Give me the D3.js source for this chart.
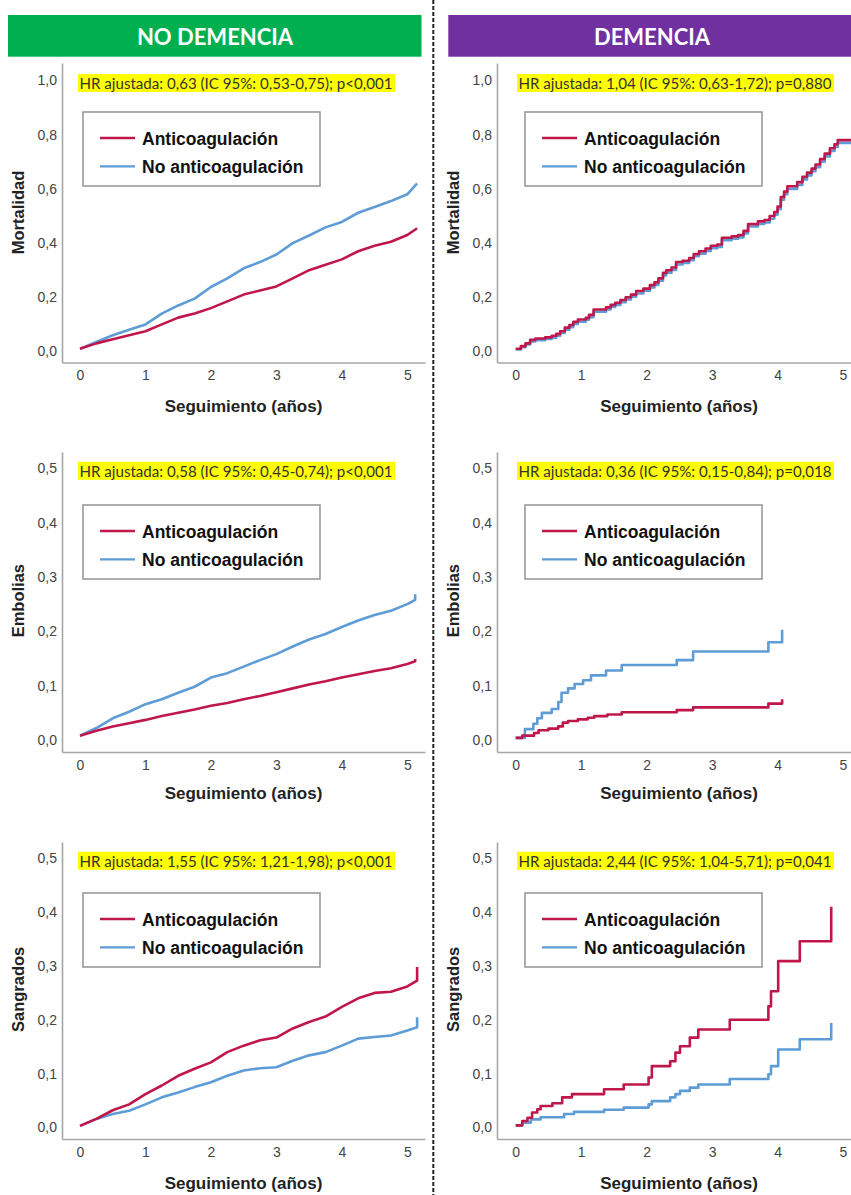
<!DOCTYPE html>
<html>
<head>
<meta charset="utf-8">
<script src="https://cdn.jsdelivr.net/npm/d3@7"></script>
<style>
  html, body { margin: 0; padding: 0; background: #fff; }
  svg { display: block; }
</style>
</head>
<body>
<svg id="chart" width="851" height="1195"></svg>
<script>
// ---------- labels ----------
const headers = ["NO DEMENCIA", "DEMENCIA"];
const outcomes = ["Mortalidad", "Embolias", "Sangrados"];
const groups = ["Anticoagulación", "No anticoagulación"];
const xTitle = "Seguimiento (años)";
const xTicks = [0, 1, 2, 3, 4, 5];
const yTicksMort = [0, 0.2, 0.4, 0.6, 0.8, 1.0];
const yTicksEvents = [0, 0.1, 0.2, 0.3, 0.4, 0.5];

const hrNoDemencia = [
  "HR ajustada: 0,63 (IC 95%: 0,53-0,75); p<0,001",
  "HR ajustada: 0,58 (IC 95%: 0,45-0,74); p<0,001",
  "HR ajustada: 1,55 (IC 95%: 1,21-1,98); p<0,001"
];
const hrDemencia = [
  "HR ajustada: 1,04 (IC 95%: 0,63-1,72); p=0,880",
  "HR ajustada: 0,36 (IC 95%: 0,15-0,84); p=0,018",
  "HR ajustada: 2,44 (IC 95%: 1,04-5,71); p=0,041"
];

// ---------- No demencia: cumulative incidence (years, proportion) ----------
const mortNoDemT = [0, 0.25, 0.5, 0.75, 1, 1.25, 1.5, 1.75, 2, 2.25, 2.5, 2.75, 3, 3.25, 3.5, 3.75, 4, 4.25, 4.5, 4.75, 5, 5.15];
const mortNoDemAnti = [0.010, 0.030, 0.045, 0.060, 0.075, 0.100, 0.125, 0.140, 0.160, 0.185, 0.210, 0.225, 0.240, 0.270, 0.300, 0.320, 0.340, 0.370, 0.390, 0.405, 0.430, 0.455];
const mortNoDemNoAnti = [0.010, 0.035, 0.060, 0.080, 0.100, 0.140, 0.170, 0.195, 0.238, 0.270, 0.307, 0.330, 0.358, 0.400, 0.428, 0.458, 0.478, 0.512, 0.533, 0.555, 0.580, 0.620];

const embNoDemT = [0, 0.25, 0.5, 0.75, 1, 1.25, 1.5, 1.75, 2, 2.25, 2.5, 2.75, 3, 3.25, 3.5, 3.75, 4, 4.25, 4.5, 4.75, 5, 5.12, 5.12];
const embNoDemAnti = [0.008, 0.017, 0.025, 0.031, 0.037, 0.044, 0.050, 0.056, 0.063, 0.068, 0.075, 0.081, 0.088, 0.095, 0.102, 0.108, 0.115, 0.121, 0.127, 0.132, 0.140, 0.145, 0.149];
const embNoDemNoAnti = [0.008, 0.022, 0.040, 0.052, 0.066, 0.075, 0.087, 0.098, 0.115, 0.123, 0.135, 0.147, 0.158, 0.172, 0.185, 0.195, 0.208, 0.220, 0.230, 0.238, 0.250, 0.258, 0.268];

const sangNoDemT = [0, 0.25, 0.5, 0.75, 1, 1.25, 1.5, 1.75, 2, 2.25, 2.5, 2.75, 3, 3.25, 3.5, 3.75, 4, 4.25, 4.5, 4.75, 5, 5.15, 5.15];
const sangNoDemAnti = [0.003, 0.016, 0.032, 0.043, 0.062, 0.078, 0.096, 0.109, 0.121, 0.140, 0.152, 0.162, 0.167, 0.184, 0.196, 0.206, 0.224, 0.240, 0.250, 0.252, 0.262, 0.273, 0.298];
const sangNoDemNoAnti = [0.003, 0.016, 0.025, 0.031, 0.043, 0.056, 0.065, 0.075, 0.084, 0.096, 0.106, 0.110, 0.112, 0.124, 0.134, 0.140, 0.152, 0.165, 0.168, 0.171, 0.180, 0.186, 0.205];

// ---------- Demencia: Kaplan-Meier style step data ----------
const mortDemT = [0, 0.08, 0.15, 0.22, 0.30, 0.45, 0.55, 0.62, 0.68, 0.75, 0.82, 0.88, 0.95, 1.07, 1.12, 1.19, 1.38, 1.45, 1.52, 1.60, 1.68, 1.76, 1.84, 1.95, 2.05, 2.12, 2.18, 2.25, 2.30, 2.38, 2.45, 2.55, 2.65, 2.72, 2.80, 2.90, 2.98, 3.08, 3.15, 3.30, 3.40, 3.48, 3.55, 3.70, 3.80, 3.88, 3.95, 4.00, 4.05, 4.10, 4.15, 4.30, 4.38, 4.45, 4.52, 4.58, 4.65, 4.72, 4.80, 4.87, 4.92, 5.20];
const mortDemAnti = [0.010, 0.020, 0.030, 0.043, 0.048, 0.052, 0.058, 0.065, 0.075, 0.088, 0.098, 0.110, 0.118, 0.124, 0.135, 0.155, 0.163, 0.172, 0.180, 0.190, 0.200, 0.210, 0.223, 0.232, 0.245, 0.255, 0.270, 0.290, 0.300, 0.310, 0.330, 0.335, 0.345, 0.360, 0.370, 0.380, 0.390, 0.395, 0.420, 0.425, 0.430, 0.445, 0.470, 0.480, 0.485, 0.500, 0.515, 0.535, 0.570, 0.590, 0.610, 0.625, 0.645, 0.660, 0.675, 0.690, 0.710, 0.730, 0.750, 0.765, 0.780, 0.780];
const mortDemNoAnti = [0.008, 0.016, 0.026, 0.037, 0.042, 0.046, 0.051, 0.058, 0.068, 0.080, 0.090, 0.102, 0.110, 0.117, 0.127, 0.147, 0.155, 0.164, 0.172, 0.182, 0.192, 0.202, 0.214, 0.224, 0.236, 0.246, 0.261, 0.281, 0.291, 0.301, 0.321, 0.327, 0.337, 0.352, 0.361, 0.371, 0.381, 0.386, 0.411, 0.416, 0.421, 0.436, 0.461, 0.471, 0.476, 0.490, 0.505, 0.525, 0.560, 0.580, 0.600, 0.615, 0.635, 0.650, 0.665, 0.680, 0.700, 0.720, 0.740, 0.755, 0.770, 0.770];

const embDemAntiT = [0, 0.10, 0.28, 0.35, 0.50, 0.65, 0.72, 0.80, 0.95, 1.10, 1.20, 1.40, 1.62, 2.46, 2.71, 3.86, 4.07];
const embDemAnti = [0.004, 0.008, 0.013, 0.018, 0.021, 0.025, 0.032, 0.035, 0.038, 0.041, 0.044, 0.047, 0.051, 0.055, 0.060, 0.067, 0.075];
const embDemNoAntiT = [0, 0.14, 0.27, 0.33, 0.40, 0.55, 0.65, 0.70, 0.80, 0.90, 1.03, 1.15, 1.38, 1.62, 2.46, 2.71, 3.86, 4.07];
const embDemNoAnti = [0.004, 0.020, 0.030, 0.040, 0.050, 0.057, 0.070, 0.087, 0.095, 0.103, 0.110, 0.119, 0.128, 0.138, 0.147, 0.163, 0.180, 0.203];

const sangDemAntiT = [0, 0.10, 0.18, 0.25, 0.33, 0.38, 0.56, 0.71, 0.86, 1.35, 1.65, 2.03, 2.08, 2.36, 2.44, 2.51, 2.66, 2.79, 3.27, 3.86, 3.90, 4.01, 4.34, 4.82];
const sangDemAnti = [0.004, 0.012, 0.018, 0.028, 0.034, 0.040, 0.045, 0.056, 0.062, 0.071, 0.080, 0.093, 0.114, 0.123, 0.139, 0.151, 0.167, 0.182, 0.200, 0.225, 0.253, 0.309, 0.346, 0.410];
const sangDemNoAntiT = [0, 0.10, 0.23, 0.38, 0.74, 0.89, 1.35, 1.65, 2.03, 2.08, 2.36, 2.44, 2.51, 2.66, 2.79, 3.27, 3.86, 3.90, 4.01, 4.34, 4.82];
const sangDemNoAnti = [0.004, 0.009, 0.015, 0.019, 0.025, 0.029, 0.033, 0.037, 0.043, 0.049, 0.056, 0.062, 0.068, 0.074, 0.080, 0.090, 0.099, 0.114, 0.145, 0.164, 0.194];

// ---------- styles & layout ----------
const colorAnti = "#c0174a";
const colorNoAnti = "#5e9cd6";
const headerColors = ["#00b050", "#7030a0"];
const axisGray = "#a6a6a6";
const sansFont = "'Liberation Sans', Arial, sans-serif";
const calibriLike = "Lato, 'Open Sans', sans-serif";

const cols = [
  { axisX: 62,  x0: 80,    x5: 407.3, right: 425, titleX: 18,  legendX: 83,  hrX: 78,  headX0: 8,   headX1: 421.5, headText: 215 },
  { axisX: 497, x0: 515.7, x5: 843,   right: 861, titleX: 453, legendX: 525, hrX: 517, headX0: 448.3, headX1: 851, headText: 652 }
];
const rows = [
  { y0: 351.5,  yTop: 80.5,  topVal: 1.0, ticks: yTicksMort,   axisY: 362.5, axisTop: 63,  legendY: 112, xlabelY: 406 },
  { y0: 740,    yTop: 468.3, topVal: 0.5, ticks: yTicksEvents, axisY: 752,   axisTop: 452, legendY: 505, xlabelY: 793 },
  { y0: 1127.5, yTop: 858.3, topVal: 0.5, ticks: yTicksEvents, axisY: 1139,  axisTop: 842, legendY: 893, xlabelY: 1183 }
];

const zip = (t, v) => t.map((d, i) => [d, v[i]]);
const panelSeries = [
  [ // no demencia
    [zip(mortNoDemT, mortNoDemAnti), zip(mortNoDemT, mortNoDemNoAnti)],
    [zip(embNoDemT, embNoDemAnti), zip(embNoDemT, embNoDemNoAnti)],
    [zip(sangNoDemT, sangNoDemAnti), zip(sangNoDemT, sangNoDemNoAnti)]
  ],
  [ // demencia
    [zip(mortDemT, mortDemAnti), zip(mortDemT, mortDemNoAnti)],
    [zip(embDemAntiT, embDemAnti), zip(embDemNoAntiT, embDemNoAnti)],
    [zip(sangDemAntiT, sangDemAnti), zip(sangDemNoAntiT, sangDemNoAnti)]
  ]
];
const hrByCol = [hrNoDemencia, hrDemencia];

const esLocale = d3.formatLocale({ decimal: ",", thousands: ".", grouping: [3], currency: ["", " €"] });
const fmt1 = esLocale.format(".1f");

const svg = d3.select("#chart");

// column headers
cols.forEach((c, ci) => {
  svg.append("rect")
    .attr("x", c.headX0).attr("y", 15)
    .attr("width", c.headX1 - c.headX0).attr("height", 41.7)
    .attr("fill", headerColors[ci]);
  svg.append("text")
    .attr("x", c.headText).attr("y", 36.5)
    .attr("text-anchor", "middle").attr("dominant-baseline", "central")
    .attr("font-family", calibriLike).attr("font-size", 22).attr("font-weight", "bold")
    .attr("fill", "#fff")
    .text(headers[ci]);
});

// dashed divider
svg.append("line")
  .attr("x1", 433.3).attr("x2", 433.3).attr("y1", 0).attr("y2", 1195)
  .attr("stroke", "#222").attr("stroke-width", 2).attr("stroke-dasharray", "4,2");

cols.forEach((c, ci) => {
  rows.forEach((r, ri) => {
    const pxPerYear = (c.x5 - c.x0) / 5;
    const x = d3.scaleLinear()
      .domain([(c.axisX - c.x0) / pxPerYear, (c.right - c.x0) / pxPerYear])
      .range([c.axisX, c.right]);
    const pxPerUnit = (r.y0 - r.yTop) / r.topVal;
    const y = d3.scaleLinear()
      .domain([(r.y0 - r.axisY) / pxPerUnit, (r.y0 - r.axisTop) / pxPerUnit])
      .range([r.axisY, r.axisTop]);

    const g = svg.append("g");

    // axes
    const xAxis = g.append("g")
      .attr("transform", `translate(0,${r.axisY})`)
      .call(d3.axisBottom(x).tickValues(xTicks).tickSize(0).tickPadding(8).tickFormat(d3.format("d")));
    const yAxis = g.append("g")
      .attr("transform", `translate(${c.axisX},0)`)
      .call(d3.axisLeft(y).tickValues(r.ticks).tickSize(0).tickPadding(5).tickFormat(fmt1));
    [xAxis, yAxis].forEach(a => {
      a.select(".domain").attr("stroke", axisGray).attr("stroke-width", 1.6);
      a.selectAll("text")
        .attr("font-family", sansFont).attr("font-size", 14).attr("fill", "#444");
    });

    // axis titles
    g.append("text")
      .attr("x", (c.axisX + c.right) / 2).attr("y", r.xlabelY)
      .attr("text-anchor", "middle").attr("dominant-baseline", "central")
      .attr("font-family", sansFont).attr("font-weight", "bold").attr("font-size", 17)
      .attr("fill", "#222")
      .text(xTitle);
    const yc = (r.y0 + r.yTop) / 2 - 3.5;
    g.append("text")
      .attr("transform", `translate(${c.titleX},${yc}) rotate(-90)`)
      .attr("text-anchor", "middle").attr("dominant-baseline", "central")
      .attr("font-family", sansFont).attr("font-weight", "bold").attr("font-size", 16.5)
      .attr("fill", "#222")
      .text(outcomes[ri]);

    // HR annotation with highlight
    g.append("rect")
      .attr("x", c.hrX).attr("y", r.yTop - 6.5)
      .attr("width", 317).attr("height", 18)
      .attr("fill", "#ffff00");
    g.append("text")
      .attr("x", c.hrX + 1.5).attr("y", r.yTop + 3)
      .attr("dominant-baseline", "central")
      .attr("font-family", calibriLike).attr("font-size", 14.5)
      .attr("textLength", 313).attr("lengthAdjust", "spacingAndGlyphs")
      .attr("fill", "#333")
      .text(hrByCol[ci][ri]);

    // legend
    const lg = g.append("g").attr("transform", `translate(${c.legendX},${r.legendY})`);
    lg.append("rect")
      .attr("width", 237).attr("height", 74)
      .attr("fill", "#fff").attr("stroke", "#9a9a9a").attr("stroke-width", 1.6);
    [colorAnti, colorNoAnti].forEach((col, k) => {
      const ly = 26 + k * 28.4;
      lg.append("line")
        .attr("x1", 17).attr("x2", 52).attr("y1", ly).attr("y2", ly)
        .attr("stroke", col).attr("stroke-width", 2.4);
      lg.append("text")
        .attr("x", 59).attr("y", ly + 1)
        .attr("dominant-baseline", "central")
        .attr("font-family", sansFont).attr("font-weight", "bold").attr("font-size", 17.5)
        .attr("fill", "#111")
        .text(groups[k]);
    });

    // curves (no anticoagulation underneath)
    const line = d3.line()
      .x(d => x(d[0])).y(d => y(d[1]))
      .curve(ci === 0 ? d3.curveLinear : d3.curveStepAfter);
    const series = panelSeries[ci][ri];
    g.append("path").datum(series[1])
      .attr("d", line).attr("fill", "none")
      .attr("stroke", colorNoAnti).attr("stroke-width", 2.6).attr("stroke-linejoin", "round");
    g.append("path").datum(series[0])
      .attr("d", line).attr("fill", "none")
      .attr("stroke", colorAnti).attr("stroke-width", 2.6).attr("stroke-linejoin", "round");
  });
});
</script>
</body>
</html>
